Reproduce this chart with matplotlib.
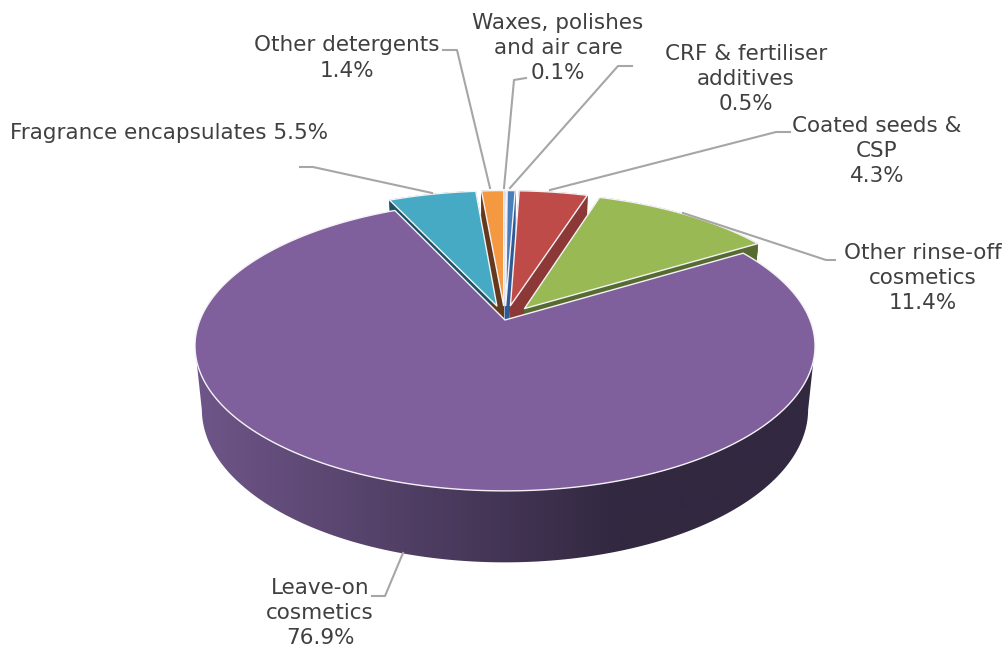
import numpy as np
import matplotlib
matplotlib.use("Agg")
import matplotlib.pyplot as plt
from matplotlib.colors import LinearSegmentedColormap
from matplotlib.patches import Polygon

# --- data ---
shares = [0.1, 0.5, 4.3, 11.4, 76.9, 5.5, 1.4]
label_text = [
    "Waxes, polishes\nand air care\n0.1%",
    "CRF & fertiliser\nadditives\n0.5%",
    "Coated seeds &\nCSP\n4.3%",
    "Other rinse-off\ncosmetics\n11.4%",
    "Leave-on\ncosmetics\n76.9%",
    "Fragrance encapsulates 5.5%",
    "Other detergents\n1.4%",
]
top_colors = ["#4a7ebb", "#4a7ebb", "#be4b48", "#98b954", "#7f609c", "#46aac5", "#f49842"]
wall_colors = ["#2e5a96", "#2e5a96", "#8c3836", "#566b30", "#7f609c", "#1f5162", "#64391c"]

# --- layout / view ---
APEX = (505.0, 320.0)
A, B, K = 305.0, 140.3, 0.179
DEPTH, M = 64.0, 0.022
EXPLODE = 0.105


def project(x, y, z=0.0):
    x, y = np.asarray(x, float), np.asarray(y, float)
    w = 1 + K * y + M * z
    return np.column_stack((APEX[0] + A * x / w, APEX[1] - B * y / w + DEPTH * z / w))


fig = plt.figure(figsize=(10.07, 6.5), dpi=100)
ax = fig.add_axes([0, 0, 1, 1])
ax.axis("off")

total = sum(shares)
edges = np.concatenate([[0], np.cumsum(shares)]) / total * 2 * np.pi
leave_idx = int(np.argmax(shares))
wall_cmap = LinearSegmentedColormap.from_list("wall", ["#6e5588", "#322840"])


def draw_slice(i):
    a0, a1 = edges[i], edges[i + 1]
    mid = (a0 + a1) / 2
    e = 0 if i == leave_idx else EXPLODE
    ox, oy = e * np.sin(mid), e * np.cos(mid)
    th = np.linspace(a0, a1, max(int((a1 - a0) * 120), 6))
    xs, ys = ox + np.sin(th), oy + np.cos(th)
    zb = 4 if i == leave_idx else 2
    top, bot = project(xs, ys, 0), project(xs, ys, 1)
    if i == leave_idx:
        # only the front of the rim is visible: from its right extreme to its left extreme
        r, l = int(np.argmax(top[:, 0])), int(np.argmin(top[:, 0]))
        wall = np.vstack((top[r:l + 1], bot[r:l + 1][::-1]))
        grad = np.clip((np.linspace(0, 1007, 512) - 200) / 420, 0, 1)[None, :]
        im = ax.imshow(grad, cmap=wall_cmap, extent=(0, 1007, 650, 0), aspect="auto", zorder=zb, vmin=0, vmax=1)
        im.set_clip_path(Polygon(wall, transform=ax.transData))
    else:
        wall = np.vstack((top, bot[::-1]))
        ax.add_patch(Polygon(wall, facecolor=wall_colors[i], edgecolor=wall_colors[i], lw=0.4, zorder=zb))
        for k in (0, -1):
            fx, fy = [ox, xs[k]], [oy, ys[k]]
            t, b = project(fx, fy, 0), project(fx, fy, 1)
            ax.add_patch(Polygon(np.vstack((t, b[::-1])), facecolor=wall_colors[i],
                                 edgecolor=wall_colors[i], lw=0.4, zorder=zb))
    outline = project(np.r_[ox, xs], np.r_[oy, ys], 0)
    ax.add_patch(Polygon(outline, facecolor=top_colors[i], edgecolor="#f4f2f6", lw=1.0,
                         joinstyle="round", zorder=zb + 1))


for i in range(len(shares)):
    draw_slice(i)

ax.set_xlim(0, 1007)
ax.set_ylim(650, 0)

# --- labels ---
label_pos = [(558, 48), (746, 79), (877, 151), (923, 278), (320, 613), (169, 133), (347, 58)]
leaders = [
    [(526, 78), (514, 80), (504, 188)],
    [(632, 66), (618, 66), (510, 188)],
    [(790, 132), (776, 132), (550, 190)],
    [(835, 260), (826, 260), (683, 213)],
    [(372, 596), (385, 596), (403, 553)],
    [(300, 167), (313, 167), (432, 193)],
    [(443, 50), (457, 50), (490, 188)],
]
for txt, p, ld in zip(label_text, label_pos, leaders):
    ax.text(p[0], p[1], txt, ha="center", va="center", ma="center", fontsize=15.5,
            family="DejaVu Sans", color="#404040", linespacing=1.33, zorder=8)
    ax.plot(*zip(*ld), color="#a6a6a6", lw=1.5, zorder=7, solid_joinstyle="round")

fig.savefig("out.png", dpi=100, facecolor="white")
